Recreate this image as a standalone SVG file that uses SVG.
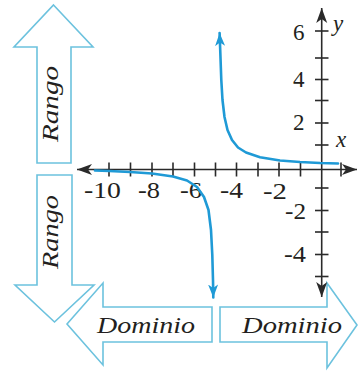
<svg xmlns="http://www.w3.org/2000/svg" width="359" height="371" viewBox="0 0 359 371">
<style>
.blk{fill:#ffffff;stroke:#6cc2de;stroke-width:1.6;stroke-linejoin:miter}
.lbl{font-family:'Liberation Serif',serif;font-style:italic;fill:#231f20}
.num{font-family:'Liberation Serif',serif;font-size:23px;fill:#231f20}
.axis{stroke:#2a2a2a;stroke-width:1.6;fill:none}
.tick{stroke:#2a2a2a;stroke-width:1.6}
.crv{stroke:#1f9ad6;stroke-width:2.6;fill:none;stroke-linejoin:round;stroke-linecap:round}
</style>
<defs>
<marker id="ah" markerUnits="userSpaceOnUse" markerWidth="16" markerHeight="12" viewBox="-15 -6 16 12" refX="0" refY="0" orient="auto">
<path d="M0,0 L-15,-5.5 L-11,0 L-15,5.5 Z" fill="#2a2a2a"/>
</marker>
<marker id="bh" markerUnits="userSpaceOnUse" markerWidth="14" markerHeight="12" viewBox="-13 -6 14 12" refX="0" refY="0" orient="auto">
<path d="M0,0 L-13,-5 L-9.5,0 L-13,5 Z" fill="#1f9ad6"/>
</marker>
</defs>

<g id="rango-up">
<path class="blk" d="M53.5,5 L93,47 L71,47 L71,163 L37,163 L37,47 L14,47 Z"/>
<text class="lbl" font-family="Liberation Serif" font-size="24" transform="translate(58,104) rotate(-90)" text-anchor="middle" textLength="76" lengthAdjust="spacingAndGlyphs">Rango</text>
</g>

<g id="rango-down">
<path class="blk" d="M37,175 L72,175 L72,285 L94,285 L54.5,322 L15,285 L37,285 Z"/>
<text class="lbl" font-family="Liberation Serif" font-size="24" transform="translate(58,232) rotate(-90)" text-anchor="middle" textLength="74" lengthAdjust="spacingAndGlyphs">Rango</text>
</g>

<g id="dominio-left">
<path class="blk" d="M67,324 L103,283 L103,307 L212,307 L212,342 L103,342 L103,365 Z"/>
<text class="lbl" font-family="Liberation Serif" font-size="24" x="146" y="333" text-anchor="middle" textLength="98" lengthAdjust="spacingAndGlyphs">Dominio</text>
</g>

<g id="dominio-right">
<path class="blk" d="M220,307 L327,307 L327,283 L357,325 L327,368 L327,342 L220,342 Z"/>
<text class="lbl" font-family="Liberation Serif" font-size="24" x="292" y="333" text-anchor="middle" textLength="100" lengthAdjust="spacingAndGlyphs">Dominio</text>
</g>

<g id="axes">
<line class="axis" x1="300" y1="169.5" x2="357" y2="169.5" marker-end="url(#ah)"/>
<line class="axis" x1="300" y1="169.5" x2="77" y2="169.5" marker-end="url(#ah)"/>
<line class="axis" x1="321.7" y1="169.5" x2="321.7" y2="8" marker-end="url(#ah)"/>
<line class="axis" x1="321.7" y1="169.5" x2="321.7" y2="297" marker-end="url(#ah)"/>
<g id="x-ticks">
<line class="tick" x1="109" y1="162.5" x2="109" y2="176.5"/>
<line class="tick" x1="130.5" y1="162.5" x2="130.5" y2="176.5"/>
<line class="tick" x1="152" y1="162.5" x2="152" y2="176.5"/>
<line class="tick" x1="173" y1="162.5" x2="173" y2="176.5"/>
<line class="tick" x1="194.5" y1="162.5" x2="194.5" y2="176.5"/>
<line class="tick" x1="215.5" y1="162.5" x2="215.5" y2="176.5"/>
<line class="tick" x1="236.5" y1="162.5" x2="236.5" y2="176.5"/>
<line class="tick" x1="258" y1="162.5" x2="258" y2="176.5"/>
<line class="tick" x1="279" y1="162.5" x2="279" y2="176.5"/>
<line class="tick" x1="300.5" y1="162.5" x2="300.5" y2="176.5"/>
<line class="tick" x1="341" y1="162.5" x2="341" y2="176.5"/>
</g>
<g id="y-ticks">
<line class="tick" x1="315" y1="31" x2="328.5" y2="31"/>
<line class="tick" x1="315" y1="58" x2="328.5" y2="58"/>
<line class="tick" x1="315" y1="79.5" x2="328.5" y2="79.5"/>
<line class="tick" x1="315" y1="100.5" x2="328.5" y2="100.5"/>
<line class="tick" x1="315" y1="123" x2="328.5" y2="123"/>
<line class="tick" x1="315" y1="145" x2="328.5" y2="145"/>
<line class="tick" x1="315" y1="188" x2="328.5" y2="188"/>
<line class="tick" x1="315" y1="210.5" x2="328.5" y2="210.5"/>
<line class="tick" x1="315" y1="232" x2="328.5" y2="232"/>
<line class="tick" x1="315" y1="254.5" x2="328.5" y2="254.5"/>
<line class="tick" x1="315" y1="276.5" x2="328.5" y2="276.5"/>
</g>
<g id="x-labels" font-family="Liberation Serif">
<text class="num" font-family="Liberation Serif" x="102.5" y="198" text-anchor="middle" textLength="37" lengthAdjust="spacingAndGlyphs">-10</text>
<text class="num" font-family="Liberation Serif" x="149" y="198" text-anchor="middle" textLength="22" lengthAdjust="spacingAndGlyphs">-8</text>
<text class="num" font-family="Liberation Serif" x="191" y="198" text-anchor="middle" textLength="22" lengthAdjust="spacingAndGlyphs">-6</text>
<text class="num" font-family="Liberation Serif" x="231.5" y="198" text-anchor="middle" textLength="23" lengthAdjust="spacingAndGlyphs">-4</text>
<text class="num" font-family="Liberation Serif" x="275" y="199" text-anchor="middle" textLength="24" lengthAdjust="spacingAndGlyphs">-2</text>
</g>
<g id="y-labels">
<text class="num" font-family="Liberation Serif" x="304.5" y="40" text-anchor="end">6</text>
<text class="num" font-family="Liberation Serif" x="304.5" y="87" text-anchor="end">4</text>
<text class="num" font-family="Liberation Serif" x="304.5" y="130" text-anchor="end">2</text>
<text class="num" font-family="Liberation Serif" x="306" y="219" text-anchor="end" textLength="21" lengthAdjust="spacingAndGlyphs">-2</text>
<text class="num" font-family="Liberation Serif" x="306" y="262" text-anchor="end" textLength="22" lengthAdjust="spacingAndGlyphs">-4</text>
</g>
<text class="lbl" font-family="Liberation Serif" font-size="23" x="333" y="31">y</text>
<text class="lbl" font-family="Liberation Serif" font-size="23" x="336" y="147">x</text>
</g>

<g id="connectors">
<polyline id="branch-right" class="crv" marker-end="url(#bh)" points="338,163.5 320,163 300,162 280,160.5 260,157.2 246,152.5 238,147.5 232,140 227.5,130 224.5,117 222.5,100 221.3,80 220.4,55 219.6,33"/>
<polyline id="branch-left" class="crv" marker-end="url(#bh)" points="95,170.5 109,171 130,172 152,173.5 173,176.5 187,180.5 197,187 204,197 208.5,210 211,230 212.3,255 213,280 213.3,297.5"/>
</g>
</svg>
